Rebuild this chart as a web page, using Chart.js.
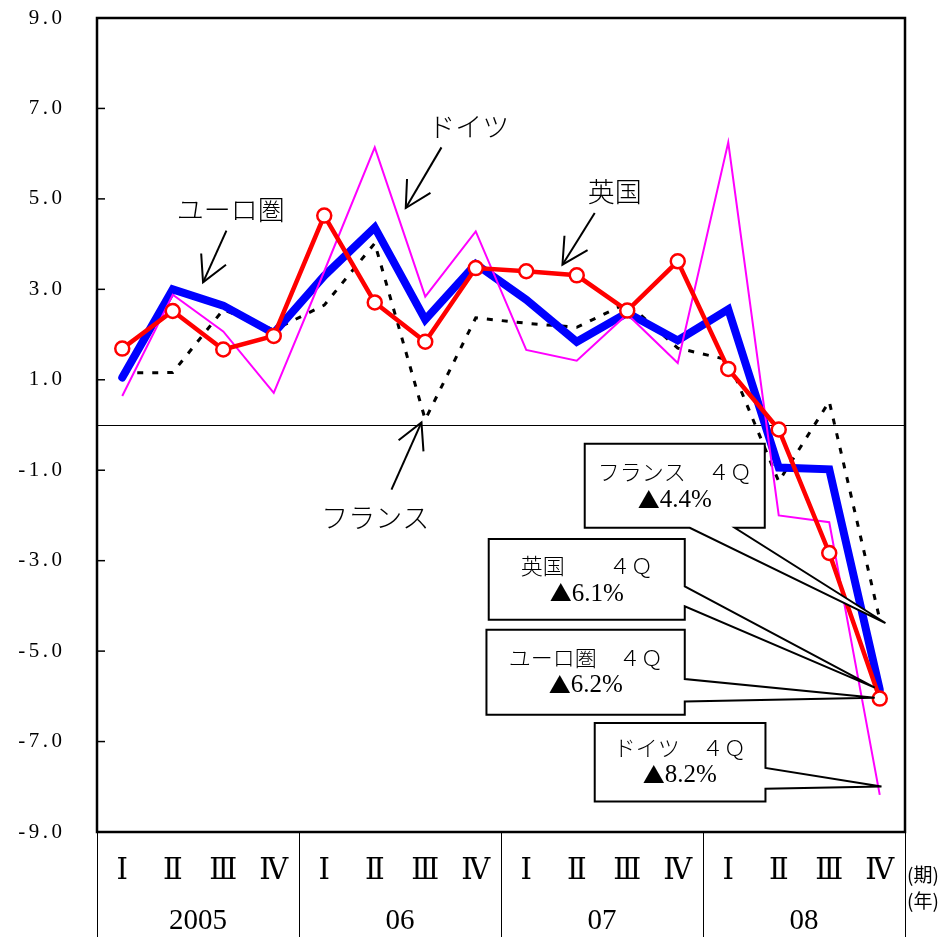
<!DOCTYPE html>
<html><head><meta charset="utf-8">
<script src="https://cdn.jsdelivr.net/npm/chart.js@4.4.1/dist/chart.umd.min.js"></script>
<style>html,body{margin:0;padding:0;background:#fff;}canvas{display:block;}</style>
</head><body>
<canvas id="c" width="946" height="937"></canvas>
<script>
// ---- data ----
const quarterLabels = ['Ⅰ','Ⅱ','Ⅲ','Ⅳ','Ⅰ','Ⅱ','Ⅲ','Ⅳ','Ⅰ','Ⅱ','Ⅲ','Ⅳ','Ⅰ','Ⅱ','Ⅲ','Ⅳ'];
const yearLabels = ['2005','06','07','08'];
const euroArea = [1.05, 3.00, 2.64, 2.03, 3.30, 4.37, 2.33, 3.56, 2.77, 1.84, 2.48, 1.87, 2.56, -0.94, -0.98, -5.85];
const uk       = [1.69, 2.52, 1.67, 1.97, 4.63, 2.71, 1.84, 3.47, 3.40, 3.31, 2.53, 3.62, 1.24, -0.10, -2.83, -6.05];
const germany  = [0.64, 2.88, 2.07, 0.71, 3.40, 6.14, 2.84, 4.28, 1.66, 1.42, 2.45, 1.37, 6.25, -2.00, -2.15, -8.18];
const france   = [1.15, 1.16, 2.55, 2.10, 2.65, 4.02, 0.12, 2.37, 2.25, 2.16, 2.70, 1.70, 1.44, -1.25, 0.52, -4.30];
const yMin = -9, yMax = 9, yStep = 2;
const periodUnit = '(期)', yearUnit = '(年)';

// ---- annotations (data coordinates: x = category index, y = value) ----
const seriesLabels = [
  {text:'ユーロ圏', x:2.149, y:4.764},
  {text:'ドイツ',   x:6.861, y:6.603},
  {text:'英国',     x:9.752, y:5.166},
  {text:'フランス', x:5.010, y:-2.057}
];
const arrows = [
  {tail:[2.063,4.298], tip:[1.600,3.153]},
  {tail:[6.321,6.139], tip:[5.614,4.799]},
  {tail:[9.356,4.688], tip:[8.717,3.545]},
  {tail:[5.331,-1.431], tip:[5.925,0.057]}
];
const callouts = [
  {title:'フランス　４Ｑ', mark:'▲', value:'4.4%', box:[9.158,-0.414,12.723,-2.272], side:'bottom', base:[11.238,12.129], tip:[15.113,-4.379], text:[10.941,-1.026,-1.652]},
  {title:'英国　　４Ｑ',   mark:'▲', value:'6.1%', box:[7.257,-2.521,11.139,-4.306], side:'right', base:[-3.569,-4.011], tip:[14.901,-5.809], text:[9.198,-3.102,-3.715]},
  {title:'ユーロ圏　４Ｑ', mark:'▲', value:'6.2%', box:[7.212,-4.527,11.139,-6.406], side:'right', base:[-5.617,-6.112], tip:[14.901,-6.030], text:[9.178,-5.153,-5.743]},
  {title:'ドイツ　４Ｑ',   mark:'▲', value:'8.2%', box:[9.356,-6.587,12.737,-8.324], side:'right', base:[-7.585,-8.043], tip:[15.034,-7.992], text:[11.040,-7.143,-7.733]}
];

const JP = "'Noto Sans CJK JP', sans-serif";
const SERIF = "'Liberation Serif', 'DejaVu Serif', serif";

const decor = {
  id: 'decor',
  afterLayout(chart) {
    // widen the letter spacing of the y tick labels (Mincho-like look)
    const s = chart.scales.y;
    if (!s._spaced) {
      const orig = s.drawLabels;
      s.drawLabels = function(area) {
        const ctx = this.ctx; ctx.save();
        if ('letterSpacing' in ctx) ctx.letterSpacing = '3.5px';
        orig.call(this, area); ctx.restore();
      };
      s._spaced = true;
    }
  },
  beforeDatasetsDraw(chart) {
    const {ctx, chartArea: a, scales: {y}} = chart;
    const y0 = Math.round(y.getPixelForValue(0)) + 0.5;
    ctx.save();
    ctx.strokeStyle = '#000'; ctx.lineWidth = 1;
    ctx.beginPath(); ctx.moveTo(a.left, y0); ctx.lineTo(a.right, y0); ctx.stroke();
    ctx.restore();
  },
  afterDatasetsDraw(chart) {
    const {ctx, chartArea: a, scales: {x, y}} = chart;
    const px = v => x.getPixelForValue(v), py = v => y.getPixelForValue(v);
    ctx.save();
    ctx.strokeStyle = '#000'; ctx.fillStyle = '#000';
    // inner y ticks
    ctx.lineWidth = 1.5;
    y.ticks.forEach(t => {
      const yy = py(t.value);
      ctx.beginPath(); ctx.moveTo(a.left, yy); ctx.lineTo(a.left + 8, yy); ctx.stroke();
    });
    // separators below the plot
    ctx.lineWidth = 1;
    for (let i = 0; i <= yearLabels.length; i++) {
      const xx = Math.round(px(i * 4 - 0.5)) + 0.5;
      ctx.beginPath(); ctx.moveTo(xx, a.bottom); ctx.lineTo(xx, chart.height); ctx.stroke();
    }
    // plot border
    ctx.lineWidth = 2.5;
    ctx.strokeRect(a.left, a.top, a.right - a.left, a.bottom - a.top);
    // unit labels
    ctx.font = "19px " + JP;
    ctx.textAlign = 'left'; ctx.textBaseline = 'middle';
    ctx.fillText(periodUnit, a.right + 2, a.bottom + 43);
    ctx.fillText(yearUnit, a.right + 2, a.bottom + 69);

    // series labels
    ctx.font = "300 27px " + JP;
    ctx.textAlign = 'center';
    seriesLabels.forEach(l => ctx.fillText(l.text, px(l.x), py(l.y)));
    // arrows
    ctx.lineWidth = 2;
    arrows.forEach(ar => {
      const tx = px(ar.tip[0]), ty = py(ar.tip[1]);
      const sx = px(ar.tail[0]), sy = py(ar.tail[1]);
      ctx.beginPath(); ctx.moveTo(sx, sy); ctx.lineTo(tx, ty); ctx.stroke();
      const ang = Math.atan2(sy - ty, sx - tx), h = 29, da = 28 * Math.PI / 180;
      ctx.beginPath();
      ctx.moveTo(tx + h * Math.cos(ang - da), ty + h * Math.sin(ang - da));
      ctx.lineTo(tx, ty);
      ctx.lineTo(tx + h * Math.cos(ang + da), ty + h * Math.sin(ang + da));
      ctx.stroke();
    });
    // callouts
    callouts.forEach(c => {
      const x1 = px(c.box[0]), y1 = py(c.box[1]), x2 = px(c.box[2]), y2 = py(c.box[3]);
      const tx = px(c.tip[0]), ty = py(c.tip[1]);
      ctx.beginPath();
      ctx.moveTo(x1, y1); ctx.lineTo(x2, y1);
      if (c.side === 'right') {
        ctx.lineTo(x2, py(c.base[0])); ctx.lineTo(tx, ty); ctx.lineTo(x2, py(c.base[1]));
        ctx.lineTo(x2, y2); ctx.lineTo(x1, y2);
      } else {
        ctx.lineTo(x2, y2); ctx.lineTo(px(c.base[1]), y2); ctx.lineTo(tx, ty); ctx.lineTo(px(c.base[0]), y2);
        ctx.lineTo(x1, y2);
      }
      ctx.closePath();
      ctx.fillStyle = '#fff'; ctx.fill();
      ctx.lineWidth = 2; ctx.lineJoin = 'miter'; ctx.stroke();
      ctx.fillStyle = '#000';
      ctx.textBaseline = 'middle';
      const cx = px(c.text[0]);
      ctx.textAlign = 'center';
      ctx.font = "300 22px " + JP;
      ctx.fillText(c.title, cx, py(c.text[1]));
      // second line: mark + value
      const markFont = "22px " + JP, valFont = "25px " + SERIF;
      ctx.font = markFont; const mw = ctx.measureText(c.mark).width;
      ctx.font = valFont; const vw = ctx.measureText(c.value).width;
      const startX = cx - (mw + vw) / 2, ly = py(c.text[2]);
      ctx.textAlign = 'left';
      ctx.font = markFont; ctx.fillText(c.mark, startX, ly);
      ctx.font = valFont; ctx.fillText(c.value, startX + mw, ly + 1);
    });
    ctx.restore();
  }
};

new Chart(document.getElementById('c'), {
  type: 'line',
  data: {
    labels: quarterLabels,
    datasets: [
      {label:'英国', data: uk, borderColor:'#ff0000', borderWidth:4.5, pointRadius:7, pointBorderWidth:2.5,
       pointBackgroundColor:'#ffffff', pointBorderColor:'#ff0000', tension:0, order:1},
      {label:'ドイツ', data: germany, borderColor:'#ff00ff', borderWidth:2, pointRadius:0, tension:0, order:2},
      {label:'ユーロ圏', data: euroArea, borderColor:'#0000ff', borderWidth:8, pointRadius:0, tension:0,
       borderCapStyle:'round', order:3},
      {label:'フランス', data: france, borderColor:'#000000', borderWidth:3, borderDash:[6,9], pointRadius:0, tension:0, order:4}
    ]
  },
  options: {
    responsive: false, animation: false, devicePixelRatio: 1,
    layout: {padding: {left: 0, right: 41, top: 18, bottom: 0}},
    plugins: {legend: {display: false}, tooltip: {enabled: false}},
    scales: {
      y: {
        min: yMin, max: yMax,
        ticks: {stepSize: yStep, padding: 0, color: '#000', font: {family: SERIF, size: 21},
                callback: v => v.toFixed(1)},
        grid: {display: false, drawTicks: true, tickLength: 31.5}, border: {display: false},
        afterFit: s => { s.width = 97; }
      },
      x: {
        offset: true, weight: 0,
        ticks: {color: '#000', font: {family: SERIF + ", " + JP, size: 29}, padding: 22, autoSkip: false, maxRotation: 0},
        grid: {display: false, drawTicks: false}, border: {display: false},
        afterFit: s => { s.height = 63; }
      },
      x2: {
        type: 'category', labels: yearLabels, position: 'bottom', offset: true, weight: 1,
        ticks: {color: '#000', font: {family: SERIF, size: 29}, padding: 9, autoSkip: false, maxRotation: 0},
        grid: {display: false, drawTicks: false}, border: {display: false},
        afterFit: s => { s.height = 42; }
      }
    }
  },
  plugins: [decor]
});
</script>
</body></html>
